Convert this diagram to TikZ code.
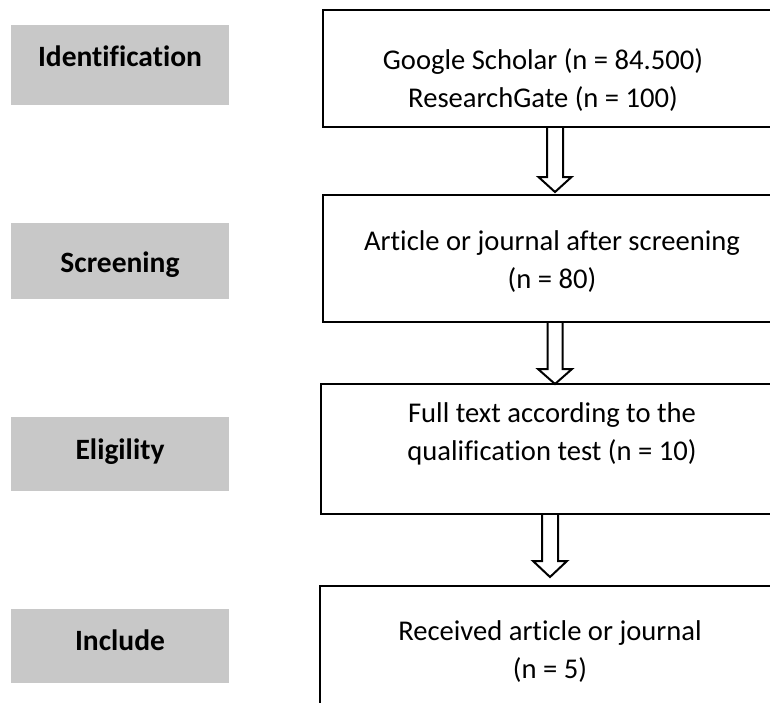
\documentclass[tikz,border=0pt]{standalone}
\usepackage{fontspec}
\setmainfont{Carlito}[Ligatures=NoCommon]
\definecolor{stagegray}{RGB}{200,200,200}
\newcommand{\blockarrow}[5]{% #1 start, #2 tip, #3 shaft half, #4 head half, #5 head length
  \draw[blk] ([xshift=-#3]#1) -- ([xshift=-#3,yshift=#5]#2) -- ([xshift=-#4,yshift=#5]#2) -- (#2)
    -- ([xshift=#4,yshift=#5]#2) -- ([xshift=#3,yshift=#5]#2) -- ([xshift=#3]#1);}
\begin{document}
\begin{tikzpicture}[x=1pt,y=-1pt,
  stage/.style={fill=stagegray, inner sep=0pt, outer sep=0pt, anchor=north west, minimum width=218pt},
  stagetext/.style={font=\fontsize{29.5}{34}\selectfont\bfseries, anchor=base, inner sep=0pt},
  flowbox/.style={draw, line width=2.5pt, anchor=north west, inner sep=0pt, outer sep=0pt, minimum width=480pt},
  flowtext/.style={font=\fontsize{28.6}{38}\selectfont, align=center, inner sep=0pt},
  blk/.style={draw, line width=2pt, line join=miter}]
\useasboundingbox (0,0) rectangle (770,702);
\clip (0,0) rectangle (770,702);
\fill[white] (0,0) rectangle (770,702);
% stage labels
\node[stage, minimum height=80pt] (g1) at (11,25) {};
\node[stage, minimum height=76pt] (g2) at (11,223) {};
\node[stage, minimum height=74pt] (g3) at (11,417) {};
\node[stage, minimum height=74pt] (g4) at (11,609) {};
\node[stagetext] (l1) at (120,66) {Identification};
\node[stagetext] (l2) at (120,272) {Screening};
\node[stagetext] (l3) at (120,459) {Eligility};
\node[stagetext] (l4) at (120,650) {Include};
% flow boxes
\node[flowbox, minimum height=117pt] (b1) at (323,10) {};
\node[flowbox, minimum height=127pt] (b2) at (323,195) {};
\node[flowbox, minimum height=130pt] (b3) at (321,384) {};
\node[flowbox, minimum height=200pt] (b4) at (320,586) {};
\node[flowtext] (t1) at (543,80) {Google Scholar (n = 84.500)\\ ResearchGate (n = 100)};
\node[flowtext] (t2) at (552,262) {Article or journal after screening\\(n = 80)};
\node[flowtext] (t3) at (552,434) {Full text according to the\\qualification test (n = 10)};
\node[flowtext] (t4) at (550,652) {Received article or journal\\(n = 5)};
% arrows
\coordinate (x1) at (555,0);
\coordinate (x3) at (550,0);
\coordinate (a1s) at (b1.south -| x1);
\coordinate (a1e) at ([yshift=3pt]b2.north -| x1);
\coordinate (a2s) at (b2.south -| x1);
\coordinate (a2e) at (b3.north -| x1);
\coordinate (a3s) at (b3.south -| x3);
\coordinate (a3e) at ([yshift=9pt]b4.north -| x3);
\blockarrow{a1s}{a1e}{8pt}{16.5pt}{15pt}
\blockarrow{a2s}{a2e}{7.5pt}{17pt}{15pt}
\blockarrow{a3s}{a3e}{8pt}{17pt}{16pt}
\end{tikzpicture}
\end{document}
